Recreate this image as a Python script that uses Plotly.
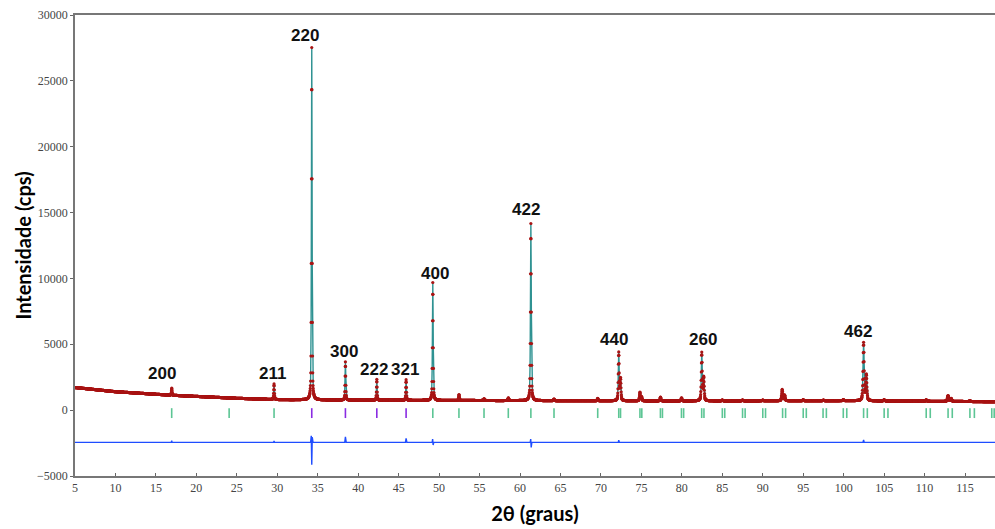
import numpy as np
import plotly.graph_objects as go

# --- Background anchors (2theta, counts) ---
bg_x = [5, 10, 17, 25, 30, 40, 50, 62, 80, 100, 118.7]
bg_y = [1720, 1400, 1130, 900, 800, 760, 740, 720, 700, 720, 640]

# --- Reflections: position (deg), net height (cps), FWHM (deg) ---
pk_pos = [16.96, 29.6, 34.26, 38.42, 42.3, 45.92, 49.22, 52.46, 55.56, 58.56,
          61.34, 64.2, 69.6, 72.2, 72.42, 74.82, 75.02, 77.36, 79.96, 82.46,
          82.7, 85.0, 87.5, 90.0, 92.4, 92.7, 95.0, 97.5, 99.96, 102.46,
          102.8, 105.0, 110.2, 112.9, 113.28, 115.6]
pk_h = [540, 1180, 26750, 2900, 1580, 1560, 8950, 450, 130, 200,
        13450, 120, 180, 3650, 1650, 650, 300, 280, 230, 3650,
        1750, 60, 60, 50, 850, 420, 60, 40, 60, 4400,
        1950, 80, 100, 440, 220, 50]
pk_w = [0.10, 0.10, 0.10, 0.10, 0.10, 0.10, 0.11, 0.11, 0.11, 0.12,
        0.12, 0.12, 0.12, 0.13, 0.13, 0.13, 0.13, 0.13, 0.13, 0.14,
        0.14, 0.14, 0.14, 0.15, 0.15, 0.15, 0.15, 0.16, 0.16, 0.16,
        0.16, 0.17, 0.17, 0.18, 0.18, 0.18]

# --- Bragg reflection markers (Ka1 and Ka2) ---
refl_a = [16.95, 24.05, 29.6, 49.22, 52.45, 55.55, 58.55, 61.34, 64.2, 69.6,
          72.2, 74.82, 77.35, 79.95, 82.45, 85.0, 87.5, 90.0, 92.45, 95.0,
          97.45, 99.95, 102.46, 105.0, 110.2, 112.9, 115.6, 118.3]
refl_a2 = [72.42, 75.05, 77.6, 80.22, 82.73, 85.3, 87.82, 90.34, 92.82, 95.38,
           97.86, 100.38, 102.92, 105.47, 110.7, 113.42, 116.15, 118.6]
refl_b = [34.26, 38.42, 42.3, 45.92]

# --- Difference curve (obs - calc, offset) ---
diff_x = [5, 16.9, 16.95, 17.0, 29.55, 29.6, 29.65, 34.12, 34.2, 34.26, 34.32,
          34.42, 38.34, 38.42, 38.52, 45.84, 45.92, 46.02, 49.14, 49.2, 49.26,
          49.34, 61.26, 61.32, 61.38, 61.46, 72.14, 72.2, 72.28, 102.38, 102.46,
          102.54, 118.7]
diff_y = [-2450, -2450, -2320, -2450, -2450, -2330, -2450, -2450, -1950, -4150, -2050,
          -2450, -2450, -2030, -2450, -2450, -2150, -2450, -2450, -2200, -2650,
          -2450, -2450, -2200, -2830, -2450, -2450, -2280, -2450, -2450, -2270,
          -2450, -2450]

# --- Miller index labels ---
lab_txt = ["200", "211", "220", "300", "222", "321", "400", "422", "440", "260", "462"]
lab_x = [15.8, 29.35, 33.4, 38.3, 42.0, 45.8, 49.5, 60.75, 71.6, 82.6, 101.8]
lab_y = [2750, 2750, 28450, 4450, 3050, 3050, 10400, 15250, 5400, 5400, 5950]

# Pattern grid and profile (pseudo-Voigt sum over background)
tt = np.round(np.arange(5.0, 118.7, 0.02), 2)
calc = np.interp(tt, bg_x, bg_y)
for p, h, w in zip(pk_pos, pk_h, pk_w):
    d = (tt - p) / (w / 2.0)
    g = np.exp(-np.log(2) * d * d)
    lor = 1.0 / (1.0 + d * d)
    calc = calc + h * (0.55 * g + 0.45 * lor)
obs = calc.copy()

fig = go.Figure()

fig.add_trace(go.Scatter(x=tt, y=calc, mode="lines",
                         line=dict(color="#2f9292", width=1.4), hoverinfo="skip"))
fig.add_trace(go.Scatter(x=tt, y=obs, mode="markers",
                         marker=dict(color="#a81414", size=3.2, line=dict(width=0)),
                         hoverinfo="skip"))
fig.add_trace(go.Scatter(x=diff_x, y=diff_y, mode="lines",
                         line=dict(color="#1f4dff", width=1.4), hoverinfo="skip"))


def tick_segments(xs):
    sx, sy = [], []
    for v in xs:
        sx += [v, v, None]
        sy += [150, -600, None]
    return sx, sy


for xs, col in [(refl_a, "#5cc594"), (refl_a2, "#5cc594"), (refl_b, "#8a2be2")]:
    sx, sy = tick_segments(xs)
    fig.add_trace(go.Scatter(x=sx, y=sy, mode="lines",
                             line=dict(color=col, width=1.6), hoverinfo="skip"))

for t, x, y in zip(lab_txt, lab_x, lab_y):
    fig.add_annotation(x=x, y=y, text="<b>%s</b>" % t, showarrow=False,
                       font=dict(family="Liberation Sans, Arial, sans-serif",
                                 size=17, color="#111111"))

axis_font = dict(family="Liberation Serif, Times New Roman, serif", size=12, color="#444444")
title_font = dict(family="Lato, Open Sans, sans-serif", size=20, color="#000000")

fig.update_layout(
    width=995, height=529,
    margin=dict(l=75, r=0, t=15, b=53),
    paper_bgcolor="white", plot_bgcolor="white",
    showlegend=False,
    xaxis=dict(range=[5, 118.7], tickmode="linear", tick0=5, dtick=5,
               ticks="inside", ticklen=3, tickcolor="#666666",
               showline=True, linecolor="#777777", linewidth=1.5, mirror=True,
               showgrid=False, zeroline=False, tickfont=axis_font,
               title=dict(text="<b>2θ (graus)</b>", font=title_font, standoff=13)),
    yaxis=dict(range=[-5000, 30000], tickmode="linear", tick0=-5000, dtick=5000,
               tickformat="d",
               ticks="outside", ticklen=3, tickcolor="#666666",
               showline=True, linecolor="#777777", linewidth=1.5,
               showgrid=False, zeroline=False, tickfont=axis_font,
               title=dict(text="<b>Intensidade (cps)</b>", font=title_font, standoff=0)),
)

fig.write_html("out.html")
